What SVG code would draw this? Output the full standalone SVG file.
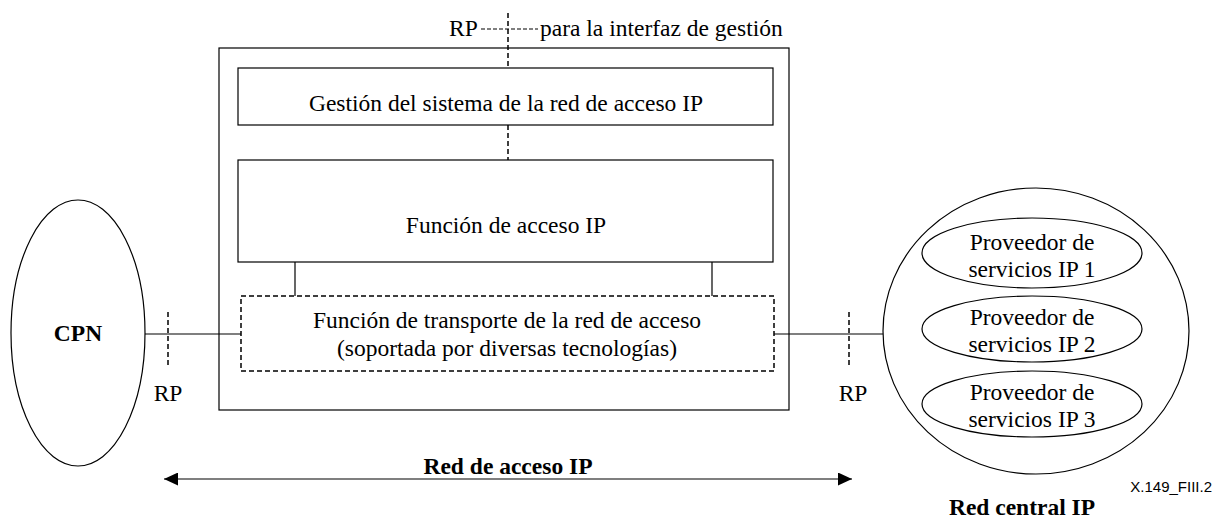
<svg xmlns="http://www.w3.org/2000/svg" width="1214" height="520" viewBox="0 0 1214 520">
<style>
.t{font-family:"Liberation Serif","Times New Roman",serif;font-size:23.5px;fill:#000}
.b{font-weight:bold}
.m{text-anchor:middle}
.s{fill:none;stroke:#000;stroke-width:1.2}
.d{fill:none;stroke:#000;stroke-width:1.5;stroke-dasharray:5,3}
.f{font-family:"Liberation Sans",Arial,sans-serif;font-size:15px;fill:#000}
</style>
<defs>
<marker id="ah" viewBox="0 0 10 10" refX="10" refY="5" markerWidth="14" markerHeight="13" markerUnits="userSpaceOnUse" orient="auto-start-reverse" preserveAspectRatio="none">
<path d="M0,0 L10,5 L0,10 z" fill="#000"/>
</marker>
</defs>
<g id="outer-box"><rect class="s" x="219" y="48" width="570" height="362"/></g>
<g id="gestion"><rect class="s" x="238" y="68" width="535" height="57"/><text class="t m" x="506" y="111">Gestión del sistema de la red de acceso IP</text></g>
<g id="acceso"><rect class="s" x="238" y="160" width="535" height="102"/><text class="t m" x="506" y="233">Función de acceso IP</text></g>
<g id="transporte"><rect class="d" x="241" y="296" width="533" height="75"/><text class="t m" x="507" y="328">Función de transporte de la red de acceso</text><text class="t m" x="507" y="356">(soportada por diversas tecnologías)</text></g>
<g id="cpn"><ellipse class="s" cx="78" cy="333" rx="67" ry="133"/><text class="t b m" x="78" y="341">CPN</text></g>
<g id="red-central"><ellipse class="s" cx="1036" cy="331" rx="153" ry="143"/>
<ellipse class="s" cx="1032" cy="253" rx="110" ry="35"/><text class="t m" x="1032" y="250">Proveedor de</text><text class="t m" x="1032" y="277">servicios IP 1</text>
<ellipse class="s" cx="1032" cy="329" rx="110" ry="33"/><text class="t m" x="1032" y="325">Proveedor de</text><text class="t m" x="1032" y="352">servicios IP 2</text>
<ellipse class="s" cx="1032" cy="404" rx="110" ry="33"/><text class="t m" x="1032" y="400">Proveedor de</text><text class="t m" x="1032" y="427">servicios IP 3</text>
<text class="t b m" x="1022" y="515">Red central IP</text></g>
<g id="connectors">
<line class="d" x1="508" y1="13" x2="508" y2="68"/>
<line class="d" x1="481" y1="29" x2="538" y2="29" style="stroke-width:1.2;stroke-dasharray:4,2"/>
<line class="d" x1="508" y1="125" x2="508" y2="160"/>
<line class="s" x1="295" y1="262" x2="295" y2="296"/>
<line class="s" x1="712" y1="262" x2="712" y2="296"/>
<line class="s" x1="145" y1="334" x2="241" y2="334"/>
<line class="s" x1="774" y1="334" x2="883" y2="334"/>
<line class="d" x1="168" y1="312" x2="168" y2="366"/>
<line class="d" x1="849" y1="312" x2="849" y2="366"/>
<line class="s" x1="164" y1="479" x2="852" y2="479" marker-start="url(#ah)" marker-end="url(#ah)"/>
</g>
<text class="t" x="449" y="36">RP</text>
<text class="t" x="540" y="36">para la interfaz de gestión</text>
<text class="t m" x="168" y="401">RP</text>
<text class="t m" x="853" y="401">RP</text>
<text class="t b m" x="508" y="474">Red de acceso IP</text>
<text class="f" x="1212" y="492" text-anchor="end">X.149_FIII.2</text>
</svg>
